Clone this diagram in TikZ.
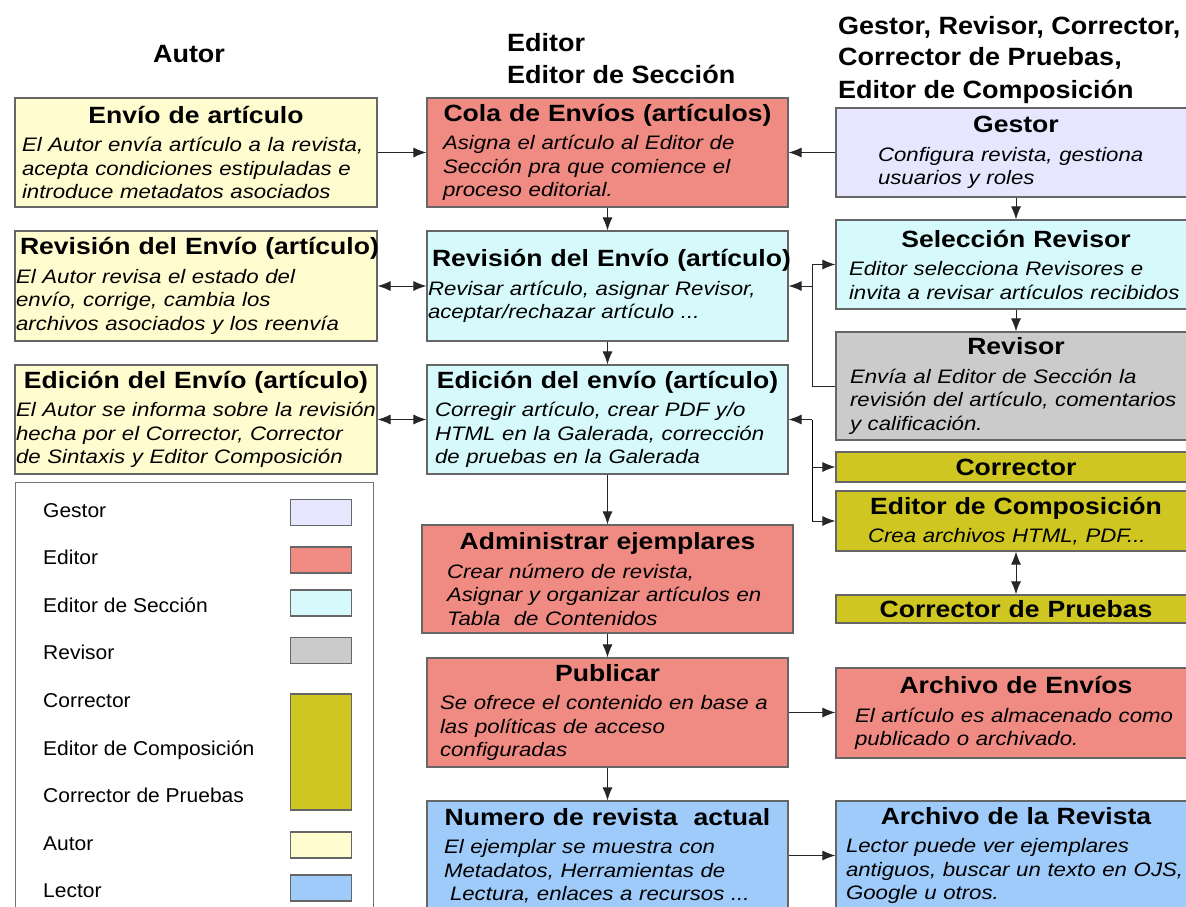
\documentclass[tikz,border=0pt]{standalone}
\usepackage{fontspec}
\setmainfont{Liberation Sans}
\newfontfamily\fcuerpo{Liberation Sans}[FakeStretch=1.14]
\newfontfamily\ftitulo{Liberation Sans}[FakeStretch=1.13]
\newfontfamily\fcabecera{Liberation Sans}[FakeStretch=1.08]
\newfontfamily\fleyenda{Liberation Sans}[FakeStretch=1.05]
\usetikzlibrary{arrows.meta}

\definecolor{gestor}{HTML}{E6E6FF}
\definecolor{editor}{HTML}{F08B83}
\definecolor{seccion}{HTML}{D6FAFC}
\definecolor{revisor}{HTML}{CBCBCB}
\definecolor{corrector}{HTML}{CFC621}
\definecolor{autor}{HTML}{FFFCD0}
\definecolor{lector}{HTML}{9FCBFA}

\newcommand{\titulo}[1]{{\centering\ftitulo\fontsize{23.5}{27}\selectfont\bfseries\spaceskip=0.34em\relax \mbox{#1}\par}}
\newcommand{\cuerpo}[2][0pt]{{\vskip5pt\fcuerpo\fontsize{19.5}{23.5}\selectfont\itshape\spaceskip=0.34em\relax\leftskip=#1\relax\rightskip=-25pt plus 1fil\relax #2\par}}

\tikzset{
    caja/.style={draw=black!60, line width=1.2pt, inner sep=5pt, text width=#1, align=left},
    cabecera/.style={font=\fcabecera\fontsize{25}{30}\selectfont\bfseries, inner sep=0pt},
    flecha/.style={-{Latex[length=13pt,width=10pt]}, line width=1pt, draw=black!85},
    flechas/.style={{Latex[length=13pt,width=10pt]}-{Latex[length=13pt,width=10pt]}, line width=1pt, draw=black!85},
    muestra/.style={draw=black!60, line width=1.2pt, minimum width=61pt, minimum height=26pt, inner sep=0pt}
}

\begin{document}
\begin{tikzpicture}[x=1pt, y=-1pt]
    \useasboundingbox (0,0) rectangle (1186,907);

    % cabeceras de columna
    \node[cabecera, anchor=base] (hautor) at (189,63) {Autor};
    \node[cabecera, anchor=base west] (heditor) at (507,52) {Editor};
    \node[cabecera, anchor=base west] (hseccion) at (507,83) {Editor de Sección};
    \node[cabecera, anchor=base west] (hroles1) at (838,35) {Gestor, Revisor, Corrector,};
    \node[cabecera, anchor=base west] (hroles2) at (838,66) {Corrector de Pruebas,};
    \node[cabecera, anchor=base west] (hroles3) at (838,98) {Editor de Composición};

    % columna Autor
    \node[caja=352pt, fill=autor, minimum height=109pt] (envio) at (196,152.5)
        {\titulo{Envío de artículo}\cuerpo[2pt]{El Autor envía artículo a la revista,\\ acepta condiciones estipuladas e\\ introduce metadatos asociados}};
    \node[caja=352pt, fill=autor, minimum height=110pt] (revautor) at (196,286)
        {\titulo{Revisión del Envío (artículo)}\cuerpo[-4pt]{El Autor revisa el estado del\\ envío, corrige, cambia los\\ archivos asociados y los reenvía}};
    \node[caja=352pt, fill=autor, minimum height=109pt] (edicautor) at (196,419.5)
        {\titulo{Edición del Envío (artículo)}\cuerpo[-4pt]{El Autor se informa sobre la revisión\\ hecha por el Corrector, Corrector\\ de Sintaxis y Editor Composición}};

    % columna Editor / Editor de Sección
    \node[caja=351pt, fill=editor, minimum height=109pt] (cola) at (607.5,152.5)
        {\titulo{Cola de Envíos (artículos)}\cuerpo[11pt]{Asigna el artículo al Editor de\\ Sección pra que comience el\\ proceso editorial.}};
    \node[caja=351pt, fill=seccion, minimum height=110pt] (reveditor) at (607.5,286)
        {\titulo{Revisión del Envío (artículo)}\cuerpo[-4pt]{Revisar artículo, asignar Revisor,\\ aceptar/rechazar artículo ...}};
    \node[caja=351pt, fill=seccion, minimum height=109pt] (edicion) at (607.5,419.5)
        {\titulo{Edición del envío (artículo)}\cuerpo[3pt]{Corregir artículo, crear PDF y/o\\ HTML en la Galerada, corrección\\ de pruebas en la Galerada}};
    \node[caja=361pt, fill=editor, minimum height=108pt] (admin) at (607.5,579)
        {\titulo{Administrar ejemplares}\cuerpo[20pt]{Crear número de revista,\\ Asignar y organizar artículos en\\ Tabla~ de Contenidos}};
    \node[caja=351pt, fill=editor, minimum height=109pt] (publicar) at (607.5,712.5)
        {\titulo{Publicar}\cuerpo[8pt]{Se ofrece el contenido en base a\\ las políticas de acceso\\ configuradas}};
    \node[caja=351pt, fill=lector, minimum height=109pt] (numero) at (607.5,855.5)
        {\titulo{Numero de revista~ actual}\cuerpo[12pt]{El ejemplar se muestra con\\ Metadatos, Herramientas de\\ \hspace*{6pt}Lectura, enlaces a recursos ...}};

    % columna Gestor, Revisor, ...
    \node[caja=350pt, fill=gestor, minimum height=89pt] (gestor) at (1016,152.5)
        {\titulo{Gestor}\cuerpo[37pt]{Configura revista, gestiona\\ usuarios y roles}};
    \node[caja=350pt, fill=seccion, minimum height=89pt] (seleccion) at (1016,264.5)
        {\titulo{Selección Revisor}\cuerpo[8pt]{Editor selecciona Revisores e\\ invita a revisar artículos recibidos}};
    \node[caja=350pt, fill=revisor, minimum height=108pt] (revisor) at (1016,386)
        {\titulo{Revisor}\cuerpo[9pt]{Envía al Editor de Sección la\\ revisión del artículo, comentarios\\ y calificación.}};
    \node[caja=350pt, fill=corrector, minimum height=30pt, inner ysep=1pt] (corrector) at (1016,467)
        {\titulo{Corrector}};
    \node[caja=350pt, fill=corrector, minimum height=60pt, inner ysep=2pt] (composicion) at (1016,521)
        {\titulo{Editor de Composición}\cuerpo[27pt]{Crea archivos HTML, PDF...}};
    \node[caja=350pt, fill=corrector, minimum height=28pt, inner ysep=1pt] (pruebas) at (1016,609)
        {\titulo{Corrector de Pruebas}};
    \node[caja=350pt, fill=editor, minimum height=90pt] (archenvios) at (1016,713)
        {\titulo{Archivo de Envíos}\cuerpo[14pt]{El artículo es almacenado como\\ publicado o archivado.}};
    \node[caja=350pt, fill=lector, minimum height=109pt] (archrevista) at (1016,855.5)
        {\titulo{Archivo de la Revista}\cuerpo[5pt]{Lector puede ver ejemplares\\ antiguos, buscar un texto en OJS,\\ Google u otros.}};

    % leyenda
    \node[draw=black!55, line width=1pt, minimum width=358pt, minimum height=450pt, anchor=north west, inner sep=0pt] (leyenda) at (15,482) {};
    \foreach \texto [count=\i] in {Gestor, Editor, Editor de Sección, Revisor, Corrector, Editor de Composición, Corrector de Pruebas, Autor, Lector}
        \node[anchor=base west, inner sep=0pt, font=\fleyenda\fontsize{20}{24}\selectfont] (ley\i) at (43,469.4+47.6*\i) {\texto};
    \foreach \rol/\y in {gestor/512.5, editor/560, seccion/603, revisor/650.5, autor/845, lector/888}
        \node[muestra, fill=\rol] (m\rol) at (321,\y) {};
    \node[muestra, fill=corrector, minimum height=116pt] (mcorrector) at (321,752) {};

    % flujo principal
    \draw[flecha] (envio) -- (cola);
    \draw[flecha] (gestor) -- (cola);
    \draw[flechas] (revautor) -- (reveditor);
    \draw[flechas] (edicautor) -- (edicion);
    \draw[flecha] (cola) -- (reveditor);
    \draw[flecha] (reveditor) -- (edicion);
    \draw[flecha] (edicion) -- (admin);
    \draw[flecha] (admin) -- (publicar);
    \draw[flecha] (publicar) -- (numero);
    \draw[flecha] (publicar) -- (publicar -| archenvios.west);
    \draw[flecha] (numero) -- (archrevista);

    % revisores
    \draw[flecha] (gestor) -- (seleccion);
    \draw[flecha] (seleccion) -- (revisor);
    \coordinate (rama1) at (812,286);
    \draw[flecha] (revisor.west) -- (revisor.west -| rama1) |- (seleccion.west);
    \draw[flecha] (rama1) -- (reveditor);

    % correctores
    \coordinate (rama2) at (812,419.5);
    \draw (rama2) -- (rama2 |- composicion);
    \draw[flecha] (rama2) -- (edicion);
    \draw[flecha] (rama2 |- corrector) -- (corrector);
    \draw[flecha] (rama2 |- composicion) -- (composicion);
    \draw[flechas] (composicion) -- (pruebas);
\end{tikzpicture}
\end{document}
